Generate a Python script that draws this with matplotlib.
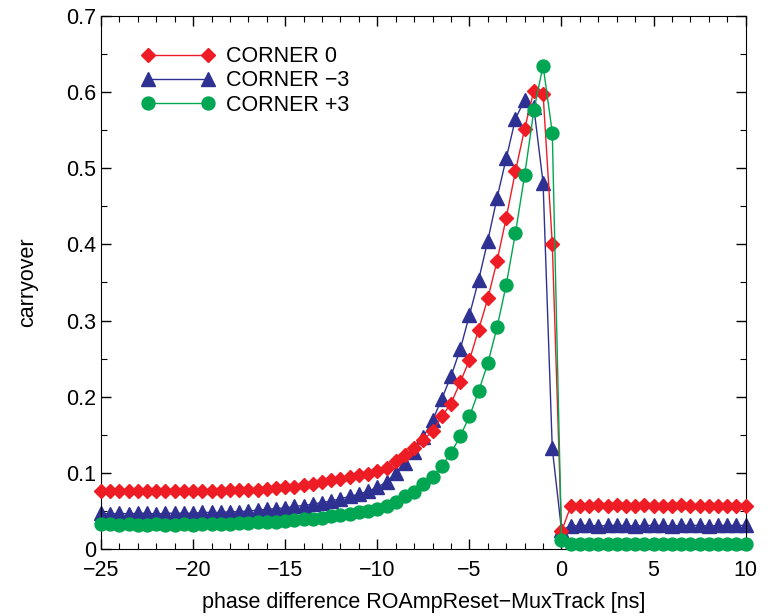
import matplotlib
matplotlib.use("Agg")
import matplotlib.pyplot as plt
from matplotlib.ticker import MultipleLocator

plt.rcParams['font.family'] = ['Liberation Sans', 'DejaVu Sans']

# phase difference [ns], 0.5 ns steps
phase = [-25.0, -24.5, -24.0, -23.5, -23.0, -22.5, -22.0, -21.5, -21.0, -20.5,
         -20.0, -19.5, -19.0, -18.5, -18.0, -17.5, -17.0, -16.5, -16.0, -15.5,
         -15.0, -14.5, -14.0, -13.5, -13.0, -12.5, -12.0, -11.5, -11.0, -10.5,
         -10.0, -9.5, -9.0, -8.5, -8.0, -7.5, -7.0, -6.5, -6.0, -5.5,
         -5.0, -4.5, -4.0, -3.5, -3.0, -2.5, -2.0, -1.5, -1.0, -0.5,
         0.0, 0.5, 1.0, 1.5, 2.0, 2.5, 3.0, 3.5, 4.0, 4.5,
         5.0, 5.5, 6.0, 6.5, 7.0, 7.5, 8.0, 8.5, 9.0, 9.5, 10.0]

corner_0 = [0.076, 0.076, 0.076, 0.076, 0.076, 0.076, 0.076, 0.076, 0.076, 0.076,
            0.076, 0.076, 0.076, 0.076, 0.077, 0.077, 0.077, 0.078, 0.079, 0.080,
            0.081, 0.082, 0.084, 0.086, 0.088, 0.090, 0.092, 0.094, 0.097, 0.099,
            0.102, 0.106, 0.115, 0.124, 0.132, 0.143, 0.155, 0.174, 0.191, 0.219,
            0.248, 0.288, 0.329, 0.378, 0.435, 0.496, 0.552, 0.602, 0.598, 0.401,
            0.023, 0.056, 0.057, 0.057, 0.058, 0.057, 0.058, 0.057, 0.057, 0.058,
            0.057, 0.057, 0.057, 0.058, 0.057, 0.057, 0.057, 0.057, 0.057, 0.057, 0.057]

corner_m3 = [0.047, 0.046, 0.047, 0.046, 0.047, 0.047, 0.046, 0.047, 0.047, 0.047,
             0.047, 0.048, 0.048, 0.048, 0.049, 0.049, 0.050, 0.051, 0.052, 0.053,
             0.054, 0.056, 0.057, 0.059, 0.061, 0.063, 0.066, 0.069, 0.072, 0.076,
             0.081, 0.088, 0.100, 0.113, 0.128, 0.147, 0.169, 0.197, 0.227, 0.262,
             0.307, 0.353, 0.405, 0.461, 0.513, 0.565, 0.590, 0.580, 0.481, 0.132,
             0.025, 0.030, 0.031, 0.031, 0.030, 0.031, 0.031, 0.031, 0.030, 0.031,
             0.031, 0.031, 0.030, 0.031, 0.031, 0.031, 0.030, 0.031, 0.031, 0.031, 0.031]

corner_p3 = [0.033, 0.033, 0.032, 0.033, 0.032, 0.032, 0.033, 0.032, 0.032, 0.033,
             0.032, 0.033, 0.033, 0.033, 0.033, 0.034, 0.034, 0.035, 0.035, 0.036,
             0.037, 0.038, 0.039, 0.040, 0.041, 0.043, 0.044, 0.046, 0.048, 0.050,
             0.052, 0.056, 0.062, 0.069, 0.075, 0.085, 0.095, 0.109, 0.126, 0.148,
             0.174, 0.207, 0.244, 0.291, 0.347, 0.415, 0.491, 0.576, 0.635, 0.547,
             0.012, 0.006, 0.006, 0.006, 0.006, 0.006, 0.006, 0.006, 0.006, 0.006,
             0.006, 0.006, 0.006, 0.006, 0.006, 0.006, 0.006, 0.006, 0.006, 0.006, 0.006]

fig = plt.figure(figsize=(7.8, 6.16), dpi=100)
ax = fig.add_axes([0.1295, 0.1088, 0.8265, 0.8652])

ax.plot(phase, corner_0, color='#ee1c24', lw=1.0, marker='D', ms=7.3,
        label='CORNER 0', clip_on=False, zorder=3)
ax.plot(phase, corner_m3, color='#2e3192', lw=1.0, marker='^', ms=9.5,
        label='CORNER \u22123', clip_on=False, zorder=2)
ax.plot(phase, corner_p3, color='#00a651', lw=1.0, marker='o', ms=9.3,
        label='CORNER +3', clip_on=False, zorder=4)

ax.set_xlim(-25, 10)
ax.set_ylim(0, 0.7)
ax.xaxis.set_major_locator(MultipleLocator(5))
ax.xaxis.set_minor_locator(MultipleLocator(1))
ax.yaxis.set_major_locator(MultipleLocator(0.1))
ax.yaxis.set_minor_locator(MultipleLocator(0.05))
ax.yaxis.set_major_formatter(plt.FuncFormatter(lambda v, p: '0' if abs(v) < 1e-9 else f'{v:.1f}'))
ax.tick_params(which='both', direction='in', top=True, right=True, labelsize=15.5)
ax.tick_params(which='major', length=7, width=1.0)
ax.tick_params(which='minor', length=4, width=0.8)
ax.tick_params(axis='x', pad=8)

ax.set_xlabel('phase difference ROAmpReset\u2212MuxTrack [ns]', fontsize=15.5, labelpad=8)
ax.set_ylabel('carryover', fontsize=15.5, labelpad=20)

ax.legend(loc='upper left', bbox_to_anchor=(0.033, 0.98), frameon=False,
          numpoints=2, handlelength=3.4, fontsize=15.5, labelspacing=0.15,
          handletextpad=0.5)

fig.savefig('out.png', dpi=100)
